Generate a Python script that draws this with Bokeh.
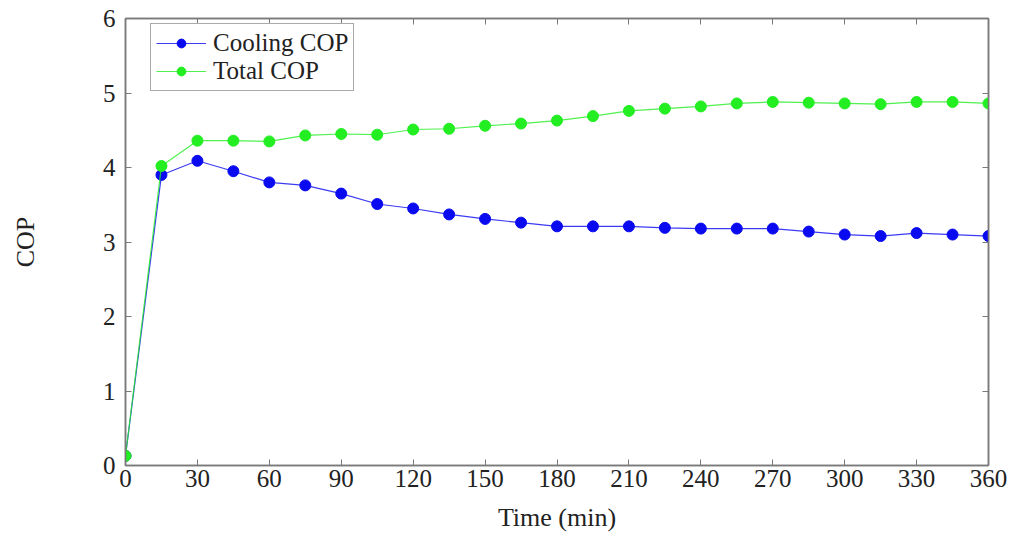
from bokeh.plotting import figure
from bokeh.models import LinearAxis, FixedTicker, Range1d, Legend, LegendItem
from bokeh.embed import file_html
from bokeh.resources import INLINE

time_min = [0, 15, 30, 45, 60, 75, 90, 105, 120, 135, 150, 165, 180, 195, 210,
            225, 240, 255, 270, 285, 300, 315, 330, 345, 360]
cooling_cop = [0.13, 3.90, 4.09, 3.95, 3.80, 3.76, 3.65, 3.51, 3.45, 3.37, 3.31,
               3.26, 3.21, 3.21, 3.21, 3.19, 3.18, 3.18, 3.18, 3.14, 3.10, 3.08,
               3.12, 3.10, 3.08]
total_cop = [0.13, 4.02, 4.36, 4.36, 4.35, 4.43, 4.45, 4.44, 4.51, 4.52, 4.56,
             4.59, 4.63, 4.69, 4.76, 4.79, 4.82, 4.86, 4.88, 4.87, 4.86, 4.85,
             4.88, 4.88, 4.86]
x_ticks = [0, 30, 60, 90, 120, 150, 180, 210, 240, 270, 300, 330, 360]
y_ticks = [0, 1, 2, 3, 4, 5, 6]
series_names = ["Cooling COP", "Total COP"]

FONT = "Liberation Serif"
TXT = "#222222"
FRAME = "#7a7a7a"
BLUE = "#0a0af0"
GREEN = "#22ee22"

p = figure(width=1011, height=534, output_backend="svg", toolbar_location=None,
           x_range=Range1d(0, 360), y_range=Range1d(0, 6),
           min_border_left=125, min_border_right=23, min_border_top=18,
           min_border_bottom=67)
p.grid.visible = False
p.outline_line_color = FRAME
p.outline_line_width = 1.5
p.background_fill_color = "white"
p.border_fill_color = "white"

def style_axis(ax, labels=True):
    ax.axis_line_color = FRAME
    ax.axis_line_width = 1.5
    ax.major_tick_line_color = FRAME
    ax.major_tick_in = 6
    ax.major_tick_out = 0
    ax.minor_tick_line_color = None
    ax.major_label_text_font = FONT
    ax.axis_label_text_font = FONT
    ax.axis_label_text_color = TXT
    ax.axis_label_text_font_size = "26px"
    ax.axis_label_text_font_style = "normal"
    if labels:
        ax.major_label_text_color = TXT
        ax.major_label_text_font_size = "25px"
    else:
        ax.major_label_text_color = None
        ax.major_label_text_font_size = "0px"
        ax.major_label_standoff = 0

p.xaxis.ticker = FixedTicker(ticks=x_ticks)
p.yaxis.ticker = FixedTicker(ticks=y_ticks)
style_axis(p.xaxis[0])
style_axis(p.yaxis[0])
p.xaxis.axis_label = "Time (min)"
p.yaxis.axis_label = "COP"
p.xaxis.major_label_standoff = 4
p.yaxis.major_label_standoff = 10
p.xaxis.axis_label_standoff = 13
p.yaxis.axis_label_standoff = 60

top_ax = LinearAxis(ticker=FixedTicker(ticks=x_ticks))
style_axis(top_ax, labels=False)
p.add_layout(top_ax, "above")
right_ax = LinearAxis(ticker=FixedTicker(ticks=y_ticks))
style_axis(right_ax, labels=False)
p.add_layout(right_ax, "right")

l1 = p.line(time_min, cooling_cop, line_color=BLUE, line_width=1.2, line_alpha=0.8)
s1 = p.scatter(time_min, cooling_cop, size=11, fill_color=BLUE, line_color=BLUE)
l2 = p.line(time_min, total_cop, line_color=GREEN, line_width=1.2, line_alpha=0.8)
s2 = p.scatter(time_min, total_cop, size=11, fill_color=GREEN, line_color=GREEN)

legend = Legend(items=[LegendItem(label=series_names[0], renderers=[l1, s1]),
                       LegendItem(label=series_names[1], renderers=[l2, s2])],
                location=(25, 374), margin=0, padding=5, spacing=0,
                glyph_width=50, glyph_height=22, label_height=22,
                label_standoff=7,
                label_text_font=FONT, label_text_font_size="25px",
                label_text_color=TXT,
                border_line_color="#555555", border_line_width=1.5,
                background_fill_color="white", background_fill_alpha=1)
p.add_layout(legend, "center")

open("out.html", "w").write(file_html(p, INLINE))
